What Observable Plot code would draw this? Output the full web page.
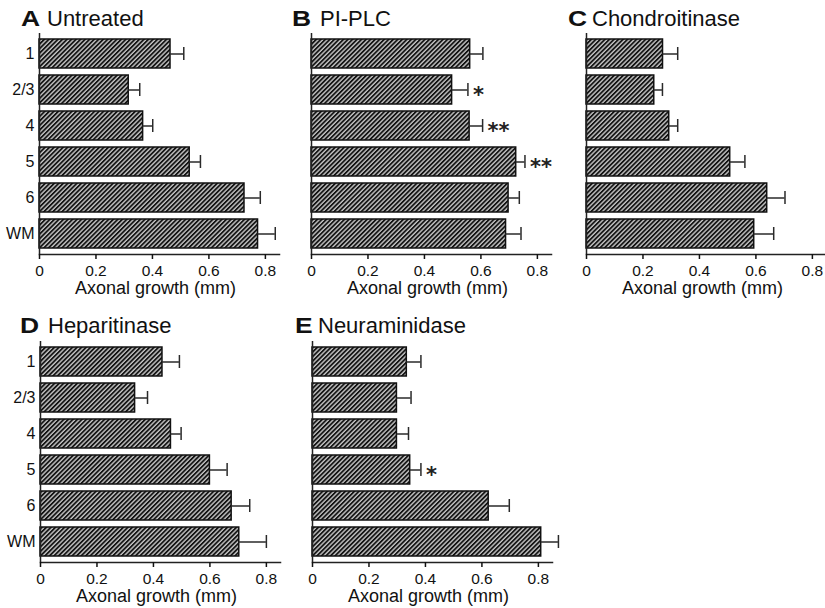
<!DOCTYPE html>
<html><head><meta charset="utf-8">
<script src="https://cdn.jsdelivr.net/npm/d3@7"></script>
<script src="https://cdn.jsdelivr.net/npm/@observablehq/plot@0.6"></script>
<style>
html,body{margin:0;padding:0;background:#fff;overflow:hidden;}
#wrap{position:relative;width:825px;height:608px;font-family:"Liberation Sans",Arial,Helvetica,sans-serif;color:#111;}
.panel{position:absolute;}
.lt{position:absolute;font-weight:bold;font-size:22px;line-height:1;white-space:nowrap;transform:scaleX(1.2);transform-origin:0 0;}
.tt{position:absolute;font-size:22px;line-height:1;white-space:nowrap;}
g[aria-label="stars"] text{letter-spacing:3px;}
</style></head><body>
<svg width="0" height="0" style="position:absolute"><defs>
<pattern id="hatch" patternUnits="userSpaceOnUse" width="3.2" height="3.2" patternTransform="rotate(45)">
<rect width="3.2" height="3.2" fill="#c4c4c4"/><line x1="0.9" y1="0" x2="0.9" y2="3.2" stroke="#141414" stroke-width="1.8"/>
</pattern></defs></svg>
<div id="wrap"></div>
<script>
const layers = ["1", "2/3", "4", "5", "6", "WM"];
const xTicks = [0, 0.2, 0.4, 0.6, 0.8];
const axisLabel = "Axonal growth (mm)";

const untreatedMean = [0.464, 0.316, 0.367, 0.532, 0.726, 0.774];
const untreatedErr  = [0.047, 0.039, 0.034, 0.038, 0.056, 0.061];
const piplcMean = [0.562, 0.498, 0.560, 0.725, 0.698, 0.689];
const piplcErr  = [0.045, 0.056, 0.046, 0.031, 0.038, 0.053];
const piplcSig  = ["", "*", "**", "**", "", ""];
const chondMean = [0.271, 0.240, 0.293, 0.509, 0.640, 0.594];
const chondErr  = [0.052, 0.029, 0.030, 0.052, 0.063, 0.069];
const heparMean = [0.432, 0.335, 0.462, 0.600, 0.677, 0.704];
const heparErr  = [0.060, 0.044, 0.036, 0.061, 0.064, 0.096];
const neuraMean = [0.334, 0.299, 0.299, 0.346, 0.624, 0.810];
const neuraErr  = [0.050, 0.050, 0.041, 0.038, 0.073, 0.061];
const neuraSig  = ["", "", "", "*", "", ""];

const panels = [
  {letter: "A", title: "Untreated", mean: untreatedMean, err: untreatedErr, sig: null, showY: true, x0: 39, top: 0, ty: 8, lx: 20.5, tx: 47},
  {letter: "B", title: "PI-PLC", mean: piplcMean, err: piplcErr, sig: piplcSig, showY: false, x0: 311, top: 0, ty: 8, lx: 291.5, tx: 320},
  {letter: "C", title: "Chondroitinase", mean: chondMean, err: chondErr, sig: null, showY: false, x0: 586, top: 0, ty: 8, lx: 568, tx: 592},
  {letter: "D", title: "Heparitinase", mean: heparMean, err: heparErr, sig: null, showY: true, x0: 40, top: 308, ty: 314.5, lx: 20, tx: 48},
  {letter: "E", title: "Neuraminidase", mean: neuraMean, err: neuraErr, sig: neuraSig, showY: false, x0: 312, top: 308, ty: 314.5, lx: 295, tx: 318}
];

const wrap = document.getElementById("wrap");
const ML = 38, MR = 8, MT = 33, MB = 46, PW = 240, H = 300;

for (const p of panels) {
  const data = layers.map((l, i) => ({layer: l, v: p.mean[i], e: p.mean[i] + p.err[i], s: p.sig ? p.sig[i] : ""}));
  const marks = [
    Plot.barX(data, {x: "v", y: "layer", fill: "url(#hatch)", stroke: "#111", strokeWidth: 1.5}),
    Plot.ruleY(data, {y: "layer", x1: "v", x2: "e", stroke: "#2a2a2a", strokeWidth: 1.5}),
    Plot.tickX(data, {x: "e", y: "layer", stroke: "#2a2a2a", strokeWidth: 1.5, insetTop: 8, insetBottom: 8}),
    Plot.text(data.filter(d => d.s), {x: "e", y: "layer", text: "s", textAnchor: "start", dx: 5, dy: 5, fontSize: 21,
      fontWeight: "bold", fontFamily: "'DejaVu Sans', sans-serif", fill: "#222", ariaLabel: "stars"}),
    Plot.ruleX([0], {stroke: "#222", strokeWidth: 1.5}),
    Plot.frame({anchor: "bottom", stroke: "#222", strokeWidth: 1.5}),
    Plot.axisX({ticks: xTicks, tickSize: 5, tickPadding: 5, fontSize: 15.5, strokeWidth: 1.5, label: null,
      tickFormat: d => d === 0 ? "0" : d3.format(".1f")(d)}),
    Plot.text([axisLabel], {frameAnchor: "bottom", dy: 39.5, dx: -4, text: d => d, fontSize: 18, fill: "#111"})
  ];
  if (p.showY) marks.push(Plot.axisY({tickSize: 0, tickPadding: 5, fontSize: 16, label: null}));
  const svg = Plot.plot({
    width: ML + PW + MR, height: H,
    marginLeft: ML, marginRight: MR, marginTop: MT, marginBottom: MB,
    style: {fontFamily: "'Liberation Sans', Arial, Helvetica, sans-serif", color: "#111", background: "transparent", overflow: "visible"},
    x: {domain: [0, 0.85]},
    y: {domain: layers, paddingInner: 0.2, paddingOuter: 0.1, axis: null},
    marks
  });
  svg.classList.add("panel");
  svg.style.left = (p.x0 - ML) + "px";
  svg.style.top = p.top + "px";
  svg.style.position = "absolute";
  wrap.appendChild(svg);
  const L = document.createElement("div");
  L.className = "lt"; L.textContent = p.letter;
  L.style.left = p.lx + "px"; L.style.top = p.ty + "px";
  wrap.appendChild(L);
  const T = document.createElement("div");
  T.className = "tt"; T.textContent = p.title;
  T.style.left = p.tx + "px"; T.style.top = p.ty + "px";
  wrap.appendChild(T);
}
</script>
</body></html>
